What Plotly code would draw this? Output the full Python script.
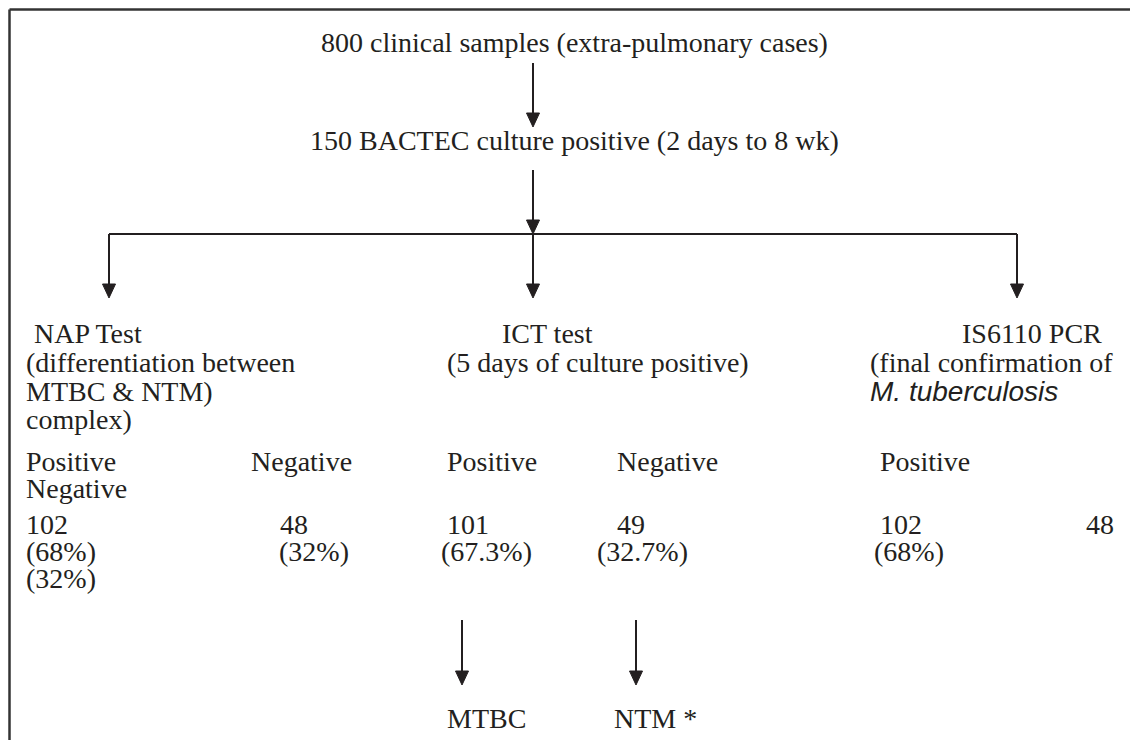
import plotly.graph_objects as go

# ---- content (text values) ----
header_lines = ["800 clinical samples (extra-pulmonary cases)",
                "150 BACTEC culture positive (2 days to 8 wk)"]
test_names = ["NAP Test", "ICT test", "IS6110 PCR"]
nap_notes = ["(differentiation between", "MTBC & NTM)", "complex)"]
ict_notes = ["(5 days of culture positive)"]
pcr_notes = ["(final confirmation of"]
pcr_species = "M. tuberculosis"
result_labels = ["Positive", "Negative"]
nap_counts = [102, 48]
nap_pct = [68, 32]
ict_counts = [101, 49]
ict_pct = [67.3, 32.7]
pcr_counts = [102, 48]
pcr_pct = [68]
ict_outcomes = ["MTBC", "NTM *"]

W, H = 1138, 740
OFF = 8  # page body margin
SERIF = "Liberation Serif, Times New Roman, serif"
INK = "#231f20"

fig = go.Figure()
fig.add_trace(go.Scatter(x=[OFF, W], y=[OFF, H], mode="markers",
                         marker=dict(opacity=0), hoverinfo="skip", showlegend=False))

def txt(x, y, s, size=28, anchor="left", family=SERIF):
    fig.add_annotation(x=x, y=y, text=s, showarrow=False, xanchor=anchor,
                       yanchor="middle", xref="x", yref="y",
                       font=dict(family=family, size=size, color=INK))

shapes = []
def line(x0, y0, x1, y1, w=2, c=INK):
    shapes.append(dict(type="line", x0=x0, y0=y0, x1=x1, y1=y1, xref="x", yref="y",
                       line=dict(color=c, width=w)))

def arrow(x, y0, y1):
    line(x, y0, x, y1 - 10)
    shapes.append(dict(type="path", xref="x", yref="y",
                       path=f"M {x-6.5},{y1-14} L {x+6.5},{y1-14} L {x},{y1} Z",
                       fillcolor=INK, line=dict(color=INK, width=1)))

# frame (top and left edges)
line(9.5, 9.5, W, 9.5, w=2.5, c="#333333")
line(9.5, 9.5, 9.5, H, w=2.5, c="#333333")

# header
txt(574, 42, header_lines[0], size=28, anchor="center")
arrow(533, 63, 127)
txt(574, 140, header_lines[1], size=28, anchor="center")
arrow(533, 170, 234)

# branch
line(109, 234, 1017, 234)
for bx in [109, 533, 1017]:
    arrow(bx, 234, 298)

# test headers
txt(25, 333, "&nbsp;" + test_names[0])
txt(500, 333, test_names[1])
txt(960, 333, test_names[2])

ny = [362, 391, 419]
for i, s in enumerate(nap_notes):
    txt(24, ny[i], s)
txt(445, ny[0], ict_notes[0])
txt(868, ny[0], pcr_notes[0])
txt(868, ny[1], "<i>" + pcr_species + "</i>", family="Liberation Sans, Arial, sans-serif")

# result labels
txt(24, 461, result_labels[0])
txt(249, 461, result_labels[1])
txt(445, 461, result_labels[0])
txt(615, 461, result_labels[1])
txt(878, 461, result_labels[0])
txt(24, 488, result_labels[1])

def pct(v):
    return f"({v:g}%)"

# counts
txt(24, 524, str(nap_counts[0]))
txt(278, 524, str(nap_counts[1]))
txt(445, 524, str(ict_counts[0]))
txt(615, 524, str(ict_counts[1]))
txt(878, 524, str(pcr_counts[0]))
txt(1084, 524, str(pcr_counts[1]))

# percentages
txt(24, 551, pct(nap_pct[0]))
txt(277, 551, pct(nap_pct[1]))
txt(439, 551, pct(ict_pct[0]))
txt(595, 551, pct(ict_pct[1]))
txt(872, 551, pct(pcr_pct[0]))
txt(24, 578, pct(nap_pct[1]))

# ICT outcomes
arrow(462, 620, 685)
arrow(636, 620, 685)
txt(445, 718, ict_outcomes[0])
txt(612, 718, ict_outcomes[1])

fig.update_layout(
    width=W - OFF, height=H - OFF, margin=dict(l=0, r=0, t=0, b=0),
    paper_bgcolor="white", plot_bgcolor="white",
    xaxis=dict(range=[OFF, W], visible=False, fixedrange=True),
    yaxis=dict(range=[H, OFF], visible=False, fixedrange=True),
    shapes=shapes, showlegend=False,
)
fig.write_html("out.html")
